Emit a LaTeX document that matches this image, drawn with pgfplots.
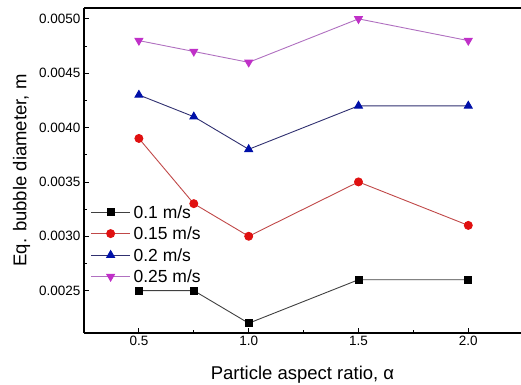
\documentclass[border=0pt]{standalone}
\usepackage{fontspec}
\setmainfont{Liberation Sans}
\usepackage{pgfplots}
\pgfplotsset{compat=1.18}
\definecolor{cblack}{HTML}{000000}
\definecolor{cred}{HTML}{E01010}
\definecolor{cblue}{HTML}{0010A8}
\definecolor{cmag}{HTML}{C030C8}
\definecolor{lblack}{HTML}{404040}
\definecolor{lred}{HTML}{C04848}
\definecolor{lblue}{HTML}{303070}
\definecolor{lmag}{HTML}{B070C0}
\begin{document}
\begin{tikzpicture}
\begin{axis}[
  scale only axis,
  width=437bp, height=325bp,
  xmin=0.25, xmax=2.24,
  ymin=0.00211, ymax=0.0051,
  axis x line*=bottom, axis y line*=left,
  axis line style={line width=1.2bp, black},
  xtick={0.5,1.0,1.5,2.0},
  ytick={0.0025,0.0030,0.0035,0.0040,0.0045,0.0050},
  minor x tick num=1, minor y tick num=1,
  xtick pos=left, ytick pos=left,
  tick align=inside,
  major tick length=5bp, minor tick length=3bp,
  every tick/.style={black, line width=0.8bp},
  scaled y ticks=false,
  /pgf/number format/assume math mode=true,
  xticklabel style={font=\fontsize{13.5bp}{15bp}\selectfont, /pgf/number format/fixed, /pgf/number format/fixed zerofill, /pgf/number format/precision=1},
  yticklabel style={font=\fontsize{13.5bp}{15bp}\selectfont, /pgf/number format/fixed, /pgf/number format/fixed zerofill, /pgf/number format/precision=4},
  xlabel={Particle aspect ratio, α},
  ylabel={Eq. bubble diameter, m},
  xlabel style={font=\fontsize{18.5bp}{20bp}\selectfont, at={(axis description cs:0.5,-0.129)}, anchor=center},
  ylabel style={font=\fontsize{18.5bp}{20bp}\selectfont, at={(axis description cs:-0.143,0.5)}, anchor=center, rotate=0},
  legend style={draw=none, fill=none, at={(axis description cs:0.008,0.398)}, anchor=north west,
    font=\fontsize{17.5bp}{19bp}\selectfont, row sep=9bp,
    nodes={inner sep=0pt, text height=12.5bp, text depth=0bp}},
  legend cell align=left,
  legend image code/.code={\draw[mark repeat=2,mark phase=2,#1] plot coordinates {(0bp,0bp) (19.5bp,0bp) (39bp,0bp)}; \path (42bp,0bp);},
]
\draw[line width=1.2bp, black] (rel axis cs:0,1) -- (rel axis cs:1,1);
\addplot[lblack, line width=0.9bp, mark=square*, mark size=3.5bp, mark options={fill=cblack, draw=cblack}] coordinates {
(0.5,0.0025) (0.75,0.0025) (1.0,0.0022) (1.5,0.0026) (2.0,0.0026)};
\addlegendentry{0.1 m/s}
\addplot[lred, line width=0.9bp, mark=*, mark size=4bp, mark options={fill=cred, draw=cred}] coordinates {
(0.5,0.0039) (0.75,0.0033) (1.0,0.0030) (1.5,0.0035) (2.0,0.0031)};
\addlegendentry{0.15 m/s}
\addplot[lblue, line width=0.9bp, mark=triangle*, mark size=4.5bp, mark options={fill=cblue, draw=cblue}] coordinates {
(0.5,0.0043) (0.75,0.0041) (1.0,0.0038) (1.5,0.0042) (2.0,0.0042)};
\addlegendentry{0.2 m/s}
\addplot[lmag, line width=0.9bp, mark=triangle*, mark size=4.5bp, mark options={fill=cmag, draw=cmag, rotate=180}] coordinates {
(0.5,0.0048) (0.75,0.0047) (1.0,0.0046) (1.5,0.0050) (2.0,0.0048)};
\addlegendentry{0.25 m/s}
\end{axis}
\pgfresetboundingbox
\path[use as bounding box] ([xshift=-84bp,yshift=-52bp]current axis.south west) rectangle ([yshift=8bp]current axis.north east);
\end{tikzpicture}
\end{document}
